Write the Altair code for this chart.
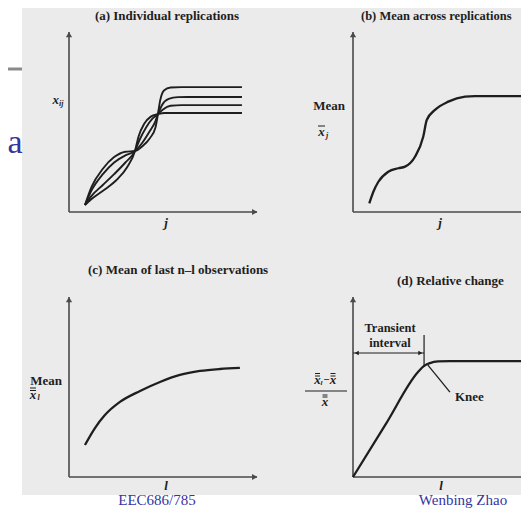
import altair as alt
import pandas as pd

# ---------------- schematic data (panel units 0-100) ----------------
# (a) Individual replications: x_ij against j for four replications
rep1_j = [8.5, 12, 18, 24, 30, 35.1, 39, 43, 46, 47.3, 48.5, 50.5, 54, 60, 92]
rep1_x = [3.9, 14, 24, 30.5, 33.5, 33.9, 36.5, 41, 47, 54.4, 62, 67.5, 69.2, 69.4, 69.4]
rep2_j = [8.5, 12, 18, 24, 30, 35.1, 39, 43, 46, 47.3, 49.5, 53, 58, 63, 92]
rep2_x = [3.9, 12, 21, 27.5, 31.5, 33.9, 38.5, 45, 50.5, 54.4, 59.5, 62.8, 63.8, 63.9, 63.9]
rep3_j = [8.5, 12, 18, 24, 30, 35.1, 37.5, 41, 44.5, 47.3, 50, 54, 60, 92]
rep3_x = [3.9, 9, 15, 21, 27.5, 33.9, 40, 47, 52, 54.4, 57, 59, 59.4, 59.4]
rep4_j = [8.5, 13, 19, 25, 31, 35.1, 37, 40, 43.5, 47.3, 51, 56, 92]
rep4_x = [3.9, 8, 12.5, 17.5, 25, 33.9, 42, 49, 53, 54.4, 55, 55, 55]

# (b) Mean across replications
mean_j = [9.7, 12, 15.1, 21, 27, 31, 36.9, 41.8, 43.9, 48.8, 56.7, 66.7, 72.6, 100]
mean_x = [4.8, 11, 16.8, 22.4, 24.3, 25.2, 30.7, 41.8, 51.1, 56.7, 61.3, 64.1, 64.4, 64.4]

# (c) Mean of last n-l observations
tail_l = [8.5, 13.8, 19.1, 27.1, 37.8, 48.4, 59, 69.7, 80.3, 90.9]
tail_mean = [17.8, 27.2, 34.4, 41.7, 47.8, 52.8, 56.7, 58.9, 60, 60.6]

# (d) Relative change
rel_l = [0, 19.4, 38.7, 42.3, 45.8, 50.6, 57.7, 100]
rel_change = [0, 29.2, 58.3, 61.7, 63.3, 64.2, 64.4, 64.4]
knee_l = [44.6, 57.7]
knee_v = [62.2, 47.2]
transient_end = 42.3
transient_level = 68.9

# ---------------- layout ----------------
FRAMES = {"a": (69, 257, 32, 212), "b": (353, 521, 32, 212),
          "c": (69, 257, 297, 477), "d": (353, 521, 297, 477)}
XS = alt.Scale(domain=[8, 521], range=[0, 513], nice=False, zero=False)
YS = alt.Scale(domain=[8, 508], reverse=True, nice=False, zero=False)
INK = "#1e1e1e"
AXIS = "#4a4a4a"
BLUE = "#35359f"
SCAN = "#ebebeb"
SERIF = "Liberation Serif"
ONE = pd.DataFrame({"k": [0]})


def placed(df, panel):
    l, r, t, b = FRAMES[panel]
    return alt.Chart(df).transform_calculate(
        px=f"{l} + datum.u * {(r - l) / 100}",
        py=f"{b} - datum.v * {(b - t) / 100}",
    )


def enc():
    return dict(x=alt.X("px:Q", scale=XS, axis=None),
                y=alt.Y("py:Q", scale=YS, axis=None))


def label(text, x, y, size=13, weight="bold", style="normal", align="center",
          color=INK, font=SERIF, baseline="middle"):
    return alt.Chart(ONE).mark_text(
        text=text, fontSize=size, fontWeight=weight, fontStyle=style,
        align=align, baseline=baseline, color=color, font=font, clip=True
    ).encode(x=alt.value(x - 8), y=alt.value(y - 8))


def bar(x1, x2, y, w=1.0, color=INK):
    return alt.Chart(ONE).mark_rule(color=color, strokeWidth=w).encode(
        x=alt.value(x1 - 8), x2=alt.value(x2 - 8), y=alt.value(y - 8))


layers = []
# scanned page background, slide rule and slide letter
layers.append(alt.Chart(ONE).mark_rect(color=SCAN).encode(
    x=alt.value(14), x2=alt.value(513), y=alt.value(0), y2=alt.value(487)))
layers.append(bar(8, 22, 69, w=3, color="#8a8a8a"))
layers.append(label("a", 22.5, 153, size=34, weight="normal", align="right",
                    color=BLUE, baseline="alphabetic"))

# axes
for p, right_arrow in [("a", True), ("b", False), ("c", True), ("d", False)]:
    ax = pd.DataFrame({"u": [0, 0, 0, 100], "v": [100, 0, 0, 0],
                       "seg": ["y", "y", "x", "x"]})
    layers.append(placed(ax, p).mark_line(color=AXIS, strokeWidth=1.6, clip=True)
                  .encode(detail="seg:N", **enc()))
    layers.append(placed(pd.DataFrame({"u": [0], "v": [98.5]}), p)
                  .mark_point(shape="triangle-up", filled=True, size=38, color=AXIS, opacity=1)
                  .encode(**enc()))
    if right_arrow:
        layers.append(placed(pd.DataFrame({"u": [98.8], "v": [0]}), p)
                      .mark_point(shape="triangle-right", filled=True, size=38, color=AXIS, opacity=1)
                      .encode(**enc()))

# (a) replications
reps = pd.concat([
    pd.DataFrame({"u": rep1_j, "v": rep1_x, "rep": "1"}),
    pd.DataFrame({"u": rep2_j, "v": rep2_x, "rep": "2"}),
    pd.DataFrame({"u": rep3_j, "v": rep3_x, "rep": "3"}),
    pd.DataFrame({"u": rep4_j, "v": rep4_x, "rep": "4"}),
])
layers.append(placed(reps, "a").mark_line(interpolate="monotone", color=INK, strokeWidth=1.9)
              .encode(detail="rep:N", **enc()))
# (b) mean
layers.append(placed(pd.DataFrame({"u": mean_j, "v": mean_x}), "b")
              .mark_line(interpolate="monotone", color=INK, strokeWidth=2.3, clip=True)
              .encode(**enc()))
# (c) mean of last n-l
layers.append(placed(pd.DataFrame({"u": tail_l, "v": tail_mean}), "c")
              .mark_line(interpolate="monotone", color=INK, strokeWidth=2.3)
              .encode(**enc()))
# (d) relative change
layers.append(placed(pd.DataFrame({"u": rel_l, "v": rel_change}), "d")
              .mark_line(interpolate="monotone", color=INK, strokeWidth=2.3, clip=True)
              .encode(**enc()))
layers.append(placed(pd.DataFrame({"u": knee_l, "v": knee_v}), "d")
              .mark_line(color=INK, strokeWidth=1.3).encode(**enc()))
layers.append(placed(pd.DataFrame({"u": [0, transient_end], "v": [transient_level] * 2}), "d")
              .mark_line(color=INK, strokeWidth=1.2).encode(**enc()))
layers.append(placed(pd.DataFrame({"u": [transient_end] * 2, "v": [61.1, 78.9]}), "d")
              .mark_line(color=INK, strokeWidth=1.2).encode(**enc()))
layers.append(placed(pd.DataFrame({"u": [2.2], "v": [transient_level]}), "d")
              .mark_point(shape="triangle-left", filled=True, size=22, color=INK, opacity=1)
              .encode(**enc()))
layers.append(placed(pd.DataFrame({"u": [transient_end - 2.2], "v": [transient_level]}), "d")
              .mark_point(shape="triangle-right", filled=True, size=22, color=INK, opacity=1)
              .encode(**enc()))

# titles
layers.append(label("(a) Individual replications", 167, 16))
layers.append(label("(b) Mean across replications", 361, 16, size=12.5, align="left"))
layers.append(label("(c) Mean of last n\u2013l observations", 88, 270, align="left"))
layers.append(label("(d) Relative change", 397, 281, align="left"))

# (a) labels
layers.append(label("x", 59, 100, style="italic", align="right"))
layers.append(label("ij", 59, 104, size=8, style="italic", align="left"))
layers.append(label("j", 166, 223, style="italic"))
# (b) labels
layers.append(label("Mean", 345, 106, align="right"))
layers.append(label("x", 321.5, 132, style="italic"))
layers.append(bar(318, 325, 126))
layers.append(label("j", 326, 136, size=8, style="italic", align="left"))
layers.append(label("j", 440, 223, style="italic"))
# (c) labels
layers.append(label("Mean", 62, 381, align="right"))
layers.append(label("x", 33, 395, style="italic"))
layers.append(bar(30, 36, 388))
layers.append(bar(30, 36, 390.5))
layers.append(label("l", 37.5, 398, size=8, style="italic", align="left"))
layers.append(label("l", 166, 486, style="italic"))
# (d) labels
layers.append(label("x", 317.5, 380, style="italic"))
layers.append(bar(315, 320, 373.5))
layers.append(bar(315, 320, 376))
layers.append(label("l", 320.5, 383, size=7, style="italic", align="left"))
layers.append(label("\u2212", 326.5, 380, size=11))
layers.append(label("x", 333, 380, style="italic"))
layers.append(bar(330.5, 335.5, 373.5))
layers.append(bar(330.5, 335.5, 376))
layers.append(bar(305, 347, 391))
layers.append(label("x", 325, 401.5, style="italic"))
layers.append(bar(322.5, 327.5, 395))
layers.append(bar(322.5, 327.5, 397))
layers.append(label("Transient", 390, 328, size=12.5))
layers.append(label("interval", 390, 343, size=12.5))
layers.append(label("Knee", 455, 397, align="left"))
layers.append(label("l", 441, 486, style="italic"))

# slide footer
layers.append(label("EEC686/785", 157, 505, size=15, weight="normal", color=BLUE,
                    baseline="alphabetic"))
layers.append(label("Wenbing Zhao", 463, 505, size=15, weight="normal", color=BLUE,
                    baseline="alphabetic"))

chart = alt.layer(*layers).properties(
    width=513, height=500, padding=0,
    autosize=alt.AutoSizeParams(type="none"), background="white",
).configure_view(stroke=None)

chart.save("out.html", embed_options={"renderer": "svg", "actions": False})
